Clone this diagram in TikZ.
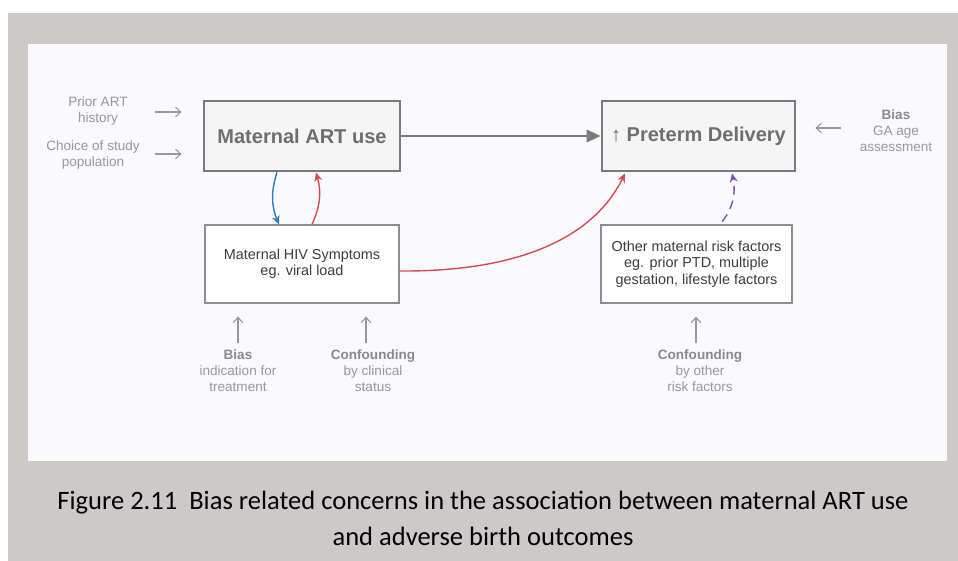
\documentclass[tikz,border=0pt]{standalone}
\usepackage{fontspec}
\setmainfont{Liberation Sans}
\newfontfamily\capfont{Carlito}
\usetikzlibrary{arrows.meta,calc}
\definecolor{bggray}{HTML}{CDC9C8}
\definecolor{panel}{HTML}{F9F9FE}
\definecolor{boxline}{HTML}{7A7A7A}
\definecolor{boxtext}{HTML}{6E6E6E}
\definecolor{lbltext}{HTML}{989898}
\definecolor{lblbold}{HTML}{8A8A8A}
\definecolor{innertext}{HTML}{3C3C3C}
\definecolor{arrred}{HTML}{D44B56}
\definecolor{arrblue}{HTML}{2F7BBF}
\definecolor{arrpurple}{HTML}{7B55B5}
\tikzset{
  mainbox/.style={draw=boxline, line width=1.6pt, fill=black!4, text=boxtext,
    font=\fontsize{11.4}{13}\selectfont\bfseries, minimum height=1.4cm},
  subbox/.style={draw=boxline!85, line width=0.7pt, fill=white, text=innertext,
    align=center, font=\fontsize{8.2}{9.4}\selectfont, minimum height=1.56cm},
  lbl/.style={text=lbltext, align=center, font=\fontsize{7.7}{9.1}\selectfont},
  lblarrow/.style={draw=lbltext, line width=0.6pt, -{Straight Barb[length=3pt,width=5.5pt]}},
  curvearrow/.style={line width=0.8pt, -{Stealth[length=5pt,width=4.5pt]}}
}
\newcommand{\bold}[1]{{\bfseries\color{lblbold}#1}}
\begin{document}
\begin{tikzpicture}[x=0.02cm,y=-0.02cm]
  % background
  \useasboundingbox (0,0) rectangle (958,561);
  \fill[bggray] (8,13) rectangle (958,561);
  \fill[panel] (28,44) rectangle (947,461);
  % boxes
  \node[mainbox, minimum width=3.92cm] (art) at (302,136) {Maternal ART use};
  \node[mainbox, minimum width=3.86cm] (ptd) at (698.5,136) {↑ Preterm Delivery};
  \node[subbox, minimum width=3.88cm] (hiv) at (302,264) {Maternal HIV Symptoms\\eg. viral load};
  \node[subbox, minimum width=3.82cm] (other) at (696.5,264) {Other maternal risk factors\\eg. prior PTD, multiple\\gestation, lifestyle factors};
  % main path
  \draw[boxline, line width=1.6pt, -{Triangle[length=8pt,width=7pt]}] (art) -- (ptd);
  % arrows between boxes
  \draw[curvearrow, arrblue] ($(art.south)+(-25,0)$) to[bend right=20] ($(hiv.north)+(-23,0)$);
  \draw[curvearrow, arrred] ($(hiv.north)+(10,0)$) to[bend right=20] ($(art.south)+(14,0)$);
  \draw[curvearrow, arrred] (hiv.east |- 0,271) .. controls (540,272) and (600,225) .. ($(ptd.south)+(-73.5,1)$);
  \draw[curvearrow, arrpurple, dashed, dash pattern=on 5pt off 3.5pt, shorten <=2pt] ($(other.north)+(23.5,0)$) to[bend right=25] ($(ptd.south)+(33.5,1)$);
  % labels on the left
  \node[lbl] (prior) at (98,111) {Prior ART\\history};
  \node[lbl] (choice) at (93,155) {Choice of study\\population};
  \coordinate (a1) at (155,112);
  \coordinate (a2) at (155,154);
  \draw[lblarrow, shorten >=0.42cm] (a1) -- (a1 -| art.west);
  \draw[lblarrow, shorten >=0.42cm] (a2) -- (a2 -| art.west);
  % label on the right
  \node[lbl] (gabias) at (896,131) {\bold{Bias}\\GA age\\assessment};
  \coordinate (a3) at (841,128);
  \draw[lblarrow, shorten >=0.38cm] (a3) -- (a3 -| ptd.east);
  % labels below
  \node[lbl] (indic) at (238,371) {\bold{Bias}\\indication for\\treatment};
  \node[lbl] (clin) at (373,371) {\bold{Confounding}\\by clinical\\status};
  \node[lbl] (riskf) at (700,371) {\bold{Confounding}\\by other\\risk factors};
  \coordinate (b1) at (238,343);
  \coordinate (b2) at (366,343);
  \coordinate (b3) at (696,343);
  \draw[lblarrow, shorten >=0.26cm] (b1) -- (b1 |- hiv.south);
  \draw[lblarrow, shorten >=0.26cm] (b2) -- (b2 |- hiv.south);
  \draw[lblarrow, shorten >=0.26cm] (b3) -- (b3 |- other.south);
  % caption
  \node[align=center, font=\capfont\fontsize{15.1}{20.5}\selectfont] (cap) at (483,518)
    {Figure 2.11\ \ Bias related concerns in the association between maternal ART use\\and adverse birth outcomes};
\end{tikzpicture}
\end{document}
